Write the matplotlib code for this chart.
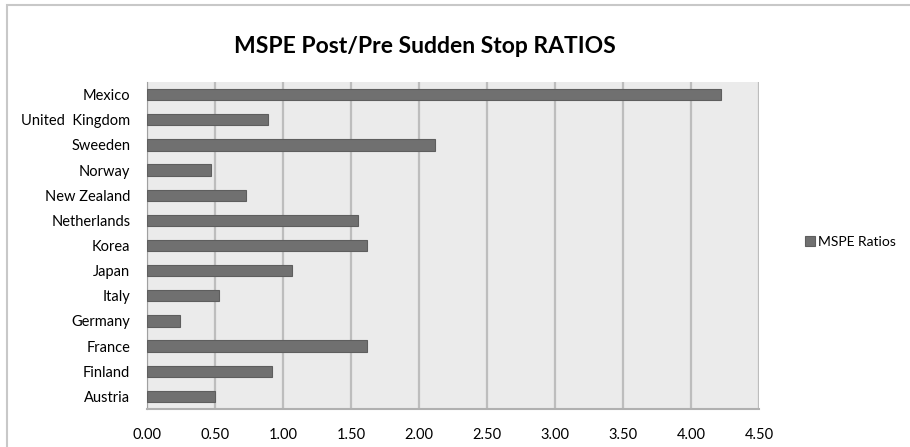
import matplotlib.pyplot as plt
from matplotlib.patches import Rectangle

countries = ['Mexico', 'United  Kingdom', 'Sweeden', 'Norway', 'New Zealand',
             'Netherlands', 'Korea', 'Japan', 'Italy', 'Germany', 'France',
             'Finland', 'Austria']
ratios = [4.22, 0.89, 2.12, 0.47, 0.73, 1.55, 1.62, 1.07, 0.53, 0.24, 1.62, 0.92, 0.50]
xticks = [0.0, 0.5, 1.0, 1.5, 2.0, 2.5, 3.0, 3.5, 4.0, 4.5]

plt.rcParams['font.family'] = ['Lato', 'DejaVu Sans']

fig = plt.figure(figsize=(9.1, 4.47), dpi=100)
ax = fig.add_axes([0.1615, 0.085, 0.6725, 0.7316])

# outer chart frame (only top and left edges visible in the crop)
fig.patches.append(Rectangle((7 / 910, -0.05), 1.1, 1.05 - 5 / 447,
                             transform=fig.transFigure, fill=False,
                             edgecolor='#c8c8c8', lw=1.5))

ypos = list(range(len(countries)))[::-1]
ax.barh(ypos, ratios, height=0.45, color='#707070', edgecolor='#5e5e5e',
        linewidth=0.8, label='MSPE Ratios', zorder=3)

ax.set_facecolor('#ebebeb')
ax.set_xlim(0, 4.5)
ax.set_ylim(-0.5, len(countries) - 0.5)
ax.set_xticks(xticks)
ax.set_xticklabels(['%.2f' % t for t in xticks], fontsize=10.5)
ax.set_yticks(ypos)
ax.set_yticklabels(countries, fontsize=10.5)
ax.tick_params(axis='y', length=0, pad=12)
ax.tick_params(axis='x', length=0, pad=14)
ax.grid(axis='x', color='#bdbdbd', linewidth=1.6, zorder=1)
for s in ['top', 'right']:
    ax.spines[s].set_visible(False)
ax.spines['left'].set_color('#a0a0a0')
ax.spines['bottom'].set_color('#b0b0b0')
ax.spines['bottom'].set_linewidth(1.5)

fig.text(0.467, 0.895, 'MSPE Post/Pre Sudden Stop RATIOS', ha='center', va='center',
         fontsize=16.5, fontweight='bold')

ax.legend(loc='center left', bbox_to_anchor=(1.055, 0.51), frameon=False,
          fontsize=10, handlelength=0.7, handleheight=0.7, handletextpad=0.25)

fig.savefig('out.png', dpi=100)
